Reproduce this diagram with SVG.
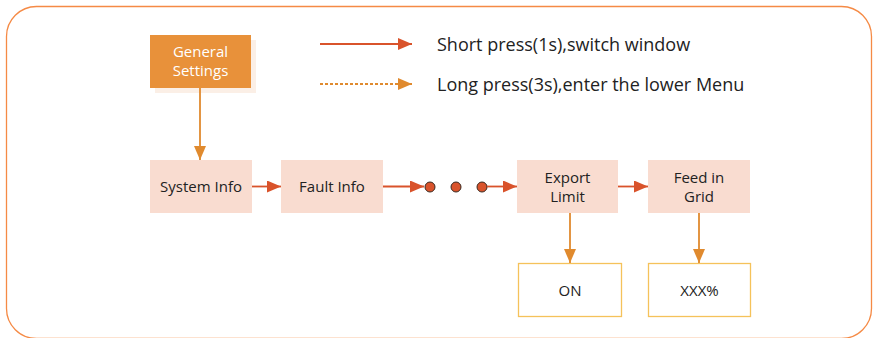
<svg xmlns="http://www.w3.org/2000/svg" width="873" height="338" viewBox="0 0 873 338">
<style>
text{font-family:"Open Sans","Noto Sans","Liberation Sans",sans-serif;fill:#222;}
.lbl{font-size:15px;text-anchor:middle;}
.leg{font-size:18px;}
.pink{fill:#F9DCD0;}
.val{fill:#fff;stroke:#F5C25A;stroke-width:1.3;}
.red{stroke:#D9532B;stroke-width:1.8;fill:none;}
.org{stroke:#E08A2E;stroke-width:1.8;fill:none;}
</style>
<defs>
<marker id="ar" viewBox="0 0 14 12" refX="14" refY="6" markerWidth="14" markerHeight="12" markerUnits="userSpaceOnUse" orient="auto"><path d="M0,0 L14,6 L0,12 Z" fill="#D9532B"/></marker>
<marker id="ao" viewBox="0 0 14 12" refX="14" refY="6" markerWidth="14" markerHeight="12" markerUnits="userSpaceOnUse" orient="auto"><path d="M0,0 L14,6 L0,12 Z" fill="#E08A2E"/></marker>
</defs>
<rect x="6.5" y="6.5" width="865" height="332" rx="30" fill="none" stroke="#F58A45" stroke-width="1.3"/>
<g id="legend">
<line x1="320" y1="44" x2="412" y2="44" class="red" marker-end="url(#ar)"/>
<text x="437" y="51" class="leg">Short press(1s),switch window</text>
<line x1="320" y1="84" x2="412" y2="84" class="org" stroke-dasharray="3,2" marker-end="url(#ao)"/>
<text x="437" y="91" class="leg">Long press(3s),enter the lower Menu</text>
</g>
<g id="general">
<rect x="155" y="40" width="101" height="53" fill="#FBEFE6"/>
<rect x="150" y="35" width="101" height="53" fill="#E8913A"/>
<text x="200.5" y="57" class="lbl" style="fill:#fff">General</text>
<text x="200.5" y="76" class="lbl" style="fill:#fff">Settings</text>
</g>
<g id="system">
<rect x="150" y="160" width="102" height="53" class="pink"/>
<text x="201" y="192" class="lbl">System Info</text>
</g>
<g id="fault">
<rect x="281" y="160" width="102" height="53" class="pink"/>
<text x="332" y="192" class="lbl">Fault Info</text>
</g>
<g id="export">
<rect x="517" y="160" width="101" height="53" class="pink"/>
<text x="567.5" y="183" class="lbl">Export</text>
<text x="567.5" y="202" class="lbl">Limit</text>
</g>
<g id="feed">
<rect x="648" y="160" width="102" height="53" class="pink"/>
<text x="699" y="183" class="lbl">Feed in</text>
<text x="699" y="202" class="lbl">Grid</text>
</g>
<g id="on">
<rect x="518.5" y="263.5" width="103" height="53" class="val"/>
<text x="570" y="296" class="lbl">ON</text>
</g>
<g id="xxx">
<rect x="648.5" y="263.5" width="102" height="53" class="val"/>
<text x="699.5" y="296" class="lbl">XXX%</text>
</g>
<g id="connectors">
<line x1="200" y1="88" x2="200" y2="160" class="org" marker-end="url(#ao)"/>
<line x1="252" y1="186.5" x2="281" y2="186.5" class="red" marker-end="url(#ar)"/>
<line x1="383" y1="186.5" x2="424" y2="186.5" class="red" marker-end="url(#ar)"/>
<circle cx="430" cy="187" r="5" fill="#D9532B" stroke="#3a2a20" stroke-width="1"/>
<circle cx="456" cy="187" r="5" fill="#D9532B" stroke="#3a2a20" stroke-width="1"/>
<circle cx="482" cy="187" r="5" fill="#D9532B" stroke="#3a2a20" stroke-width="1"/>
<line x1="487" y1="186.5" x2="517" y2="186.5" class="red" marker-end="url(#ar)"/>
<line x1="618" y1="186.5" x2="648" y2="186.5" class="red" marker-end="url(#ar)"/>
<line x1="570" y1="213" x2="570" y2="263" class="org" marker-end="url(#ao)"/>
<line x1="699" y1="213" x2="699" y2="263" class="org" marker-end="url(#ao)"/>
</g>
</svg>
